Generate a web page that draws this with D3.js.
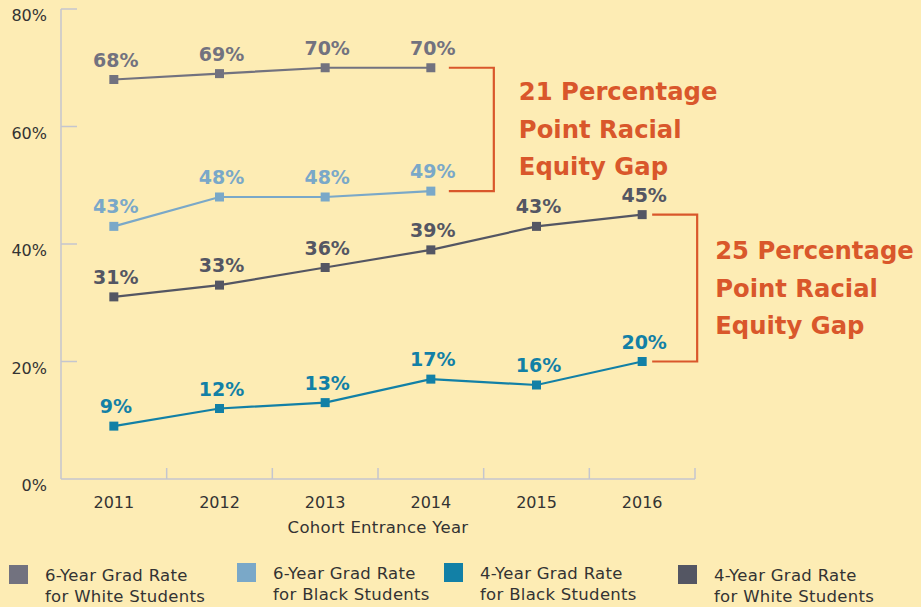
<!DOCTYPE html>
<html>
<head>
<meta charset="utf-8">
<script src="https://cdn.jsdelivr.net/npm/d3@7"></script>
<style>
  body { margin: 0; background: #fdecb4; }
  svg { display: block; font-family: "DejaVu Sans", sans-serif; }
</style>
</head>
<body>
<div class="chart"></div>
<script>
const years = ['2011', '2012', '2013', '2014', '2015', '2016']
const yTicks = [0, 20, 40, 60, 80]

// series values (percent), null where no data
const sixYearWhite = [68, 69, 70, 70, null, null]
const sixYearBlack = [43, 48, 48, 49, null, null]
const fourYearBlack = [9, 12, 13, 17, 16, 20]
const fourYearWhite = [31, 33, 36, 39, 43, 45]

const seriesNames = [
  ['6-Year Grad Rate', 'for White Students'],
  ['6-Year Grad Rate', 'for Black Students'],
  ['4-Year Grad Rate', 'for Black Students'],
  ['4-Year Grad Rate', 'for White Students']
]
const seriesColors = ['#72727f', '#7aa8c8', '#1280a6', '#545663']

const gapNotes = [
  { label: ['21 Percentage', 'Point Racial', 'Equity Gap'], year: '2014', top: 70, bottom: 49, pad: 18, textPad: 25 },
  { label: ['25 Percentage', 'Point Racial', 'Equity Gap'], year: '2016', top: 45, bottom: 20, pad: 10, textPad: 18 }
]

document.addEventListener('DOMContentLoaded', start)

function start () {
  const width = 921
  const height = 607
  const svg = d3.select('.chart').append('svg')
    .attr('width', width)
    .attr('height', height)

  const x = d3.scaleBand().domain(years).range([61, 695])
  const y = d3.scaleLinear().domain([0, 80]).range([479, 9])
  const cx = (yr) => x(yr) + x.bandwidth() / 2

  drawAxes(svg, x, y)

  const allSeries = [sixYearWhite, sixYearBlack, fourYearBlack, fourYearWhite]
  allSeries.forEach((values, i) => drawSeries(svg, x, y, cx, values, seriesColors[i]))

  drawGaps(svg, x, y, cx)
  drawLegend(svg)
}

function drawAxes (svg, x, y) {
  const axisColor = '#c4c6cf'
  const g = svg.append('g').attr('class', 'axes')

  // y axis line and inner ticks
  g.append('line')
    .attr('x1', 61).attr('x2', 61)
    .attr('y1', y(80)).attr('y2', y(0))
    .attr('stroke', axisColor).attr('stroke-width', 1.5)
  g.selectAll('.ytick')
    .data(yTicks.filter(d => d > 0))
    .enter().append('line')
    .attr('x1', 61).attr('x2', 77)
    .attr('y1', d => y(d)).attr('y2', d => y(d))
    .attr('stroke', axisColor).attr('stroke-width', 1.5)
  g.selectAll('.ylabel')
    .data(yTicks)
    .enter().append('text')
    .attr('x', 47)
    .attr('y', d => y(d) + 12)
    .attr('text-anchor', 'end')
    .attr('font-size', 16)
    .attr('fill', '#333')
    .text(d => d + '%')

  // x axis line and upward ticks at band edges
  g.append('line')
    .attr('x1', 61).attr('x2', 695)
    .attr('y1', y(0)).attr('y2', y(0))
    .attr('stroke', axisColor).attr('stroke-width', 1.5)
  const edges = years.map(d => x(d)).concat([x.range()[1]]).slice(1)
  g.selectAll('.xtick')
    .data(edges)
    .enter().append('line')
    .attr('x1', d => d).attr('x2', d => d)
    .attr('y1', y(0) - 11).attr('y2', y(0))
    .attr('stroke', axisColor).attr('stroke-width', 1.5)
  g.selectAll('.xlabel')
    .data(years)
    .enter().append('text')
    .attr('x', d => x(d) + x.bandwidth() / 2)
    .attr('y', 508)
    .attr('text-anchor', 'middle')
    .attr('font-size', 16)
    .attr('fill', '#333')
    .text(d => d)
  g.append('text')
    .attr('x', 378).attr('y', 533)
    .attr('text-anchor', 'middle')
    .attr('font-size', 16.5)
    .attr('letter-spacing', 0.3)
    .attr('fill', '#333')
    .text('Cohort Entrance Year')
}

function drawSeries (svg, x, y, cx, values, color) {
  const pts = years.map((yr, i) => ({ yr, v: values[i] })).filter(d => d.v !== null)
  const line = d3.line().x(d => cx(d.yr)).y(d => y(d.v))
  const g = svg.append('g')
  g.append('path')
    .attr('d', line(pts))
    .attr('fill', 'none')
    .attr('stroke', color)
    .attr('stroke-width', 2.2)
  g.selectAll('rect')
    .data(pts)
    .enter().append('rect')
    .attr('x', d => cx(d.yr) - 4.5)
    .attr('y', d => y(d.v) - 4.5)
    .attr('width', 9).attr('height', 9)
    .attr('fill', color)
  g.selectAll('text')
    .data(pts)
    .enter().append('text')
    .attr('x', d => cx(d.yr) + 2)
    .attr('y', d => y(d.v) - 13)
    .attr('text-anchor', 'middle')
    .attr('font-size', 19)
    .attr('font-weight', 'bold')
    .attr('fill', color)
    .text(d => d.v + '%')
}

function drawGaps (svg, x, y, cx) {
  const orange = '#d9572b'
  gapNotes.forEach(n => {
    const x0 = cx(n.year) + n.pad
    const x1 = x0 + 45
    const g = svg.append('g')
    g.append('path')
      .attr('d', `M${x0},${y(n.top)}H${x1}V${y(n.bottom)}H${x0}`)
      .attr('fill', 'none')
      .attr('stroke', orange)
      .attr('stroke-width', 2.2)
    const mid = (y(n.top) + y(n.bottom)) / 2
    g.selectAll('text')
      .data(n.label)
      .enter().append('text')
      .attr('x', x1 + n.textPad)
      .attr('y', (d, i) => mid - 29 + i * 37.5)
      .attr('font-size', 24.3)
      .attr('font-weight', 'bold')
      .attr('fill', orange)
      .text(d => d)
  })
}

function drawLegend (svg) {
  const lx = [9, 237, 444, 678]
  const ly = [565, 563, 563, 565]
  seriesNames.forEach((lines, i) => {
    const g = svg.append('g')
    g.append('rect')
      .attr('x', lx[i]).attr('y', ly[i])
      .attr('width', 19).attr('height', 19)
      .attr('fill', seriesColors[i])
    g.selectAll('text')
      .data(lines)
      .enter().append('text')
      .attr('x', lx[i] + 36)
      .attr('y', (d, j) => ly[i] + 16 + j * 21)
      .attr('font-size', 16.5)
      .attr('letter-spacing', 0.3)
      .attr('fill', '#333')
      .text(d => d)
  })
}
</script>
</body>
</html>
